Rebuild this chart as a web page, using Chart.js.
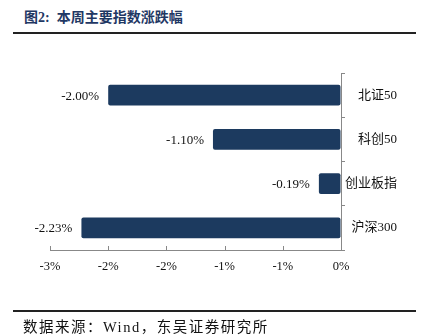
<!DOCTYPE html>
<html>
<head>
<meta charset="utf-8">
<script src="https://cdn.jsdelivr.net/npm/chart.js@4"></script>
<style>
  body { margin: 0; background: #fff; width: 423px; height: 336px; position: relative; overflow: hidden; }
  #title { position: absolute; left: 24px; top: 6px; font: bold 14px "Liberation Serif", "Noto Sans CJK SC", serif; color: #1f3864; }
  .rule { position: absolute; left: 13px; width: 403px; height: 2px; background: #222; }
  #src { position: absolute; left: 23px; top: 315px; font: 14.5px "Liberation Serif", "Noto Sans CJK SC", serif; letter-spacing: 1.5px; color: #111; }
  #wrap { position: absolute; left: 0; top: 0; width: 423px; height: 336px; }
</style>
</head>
<body>
<div id="title">图2:&nbsp; 本周主要指数涨跌幅</div>
<div class="rule" style="top:32px"></div>
<div id="wrap"><canvas id="chart"></canvas></div>
<div class="rule" style="top:310px"></div>
<div id="src">数据来源：Wind，东吴证券研究所</div>
<script>
// weekly change of major indices, %
var indices = ["北证50", "科创50", "创业板指", "沪深300"];
var changes = [-2.00, -1.10, -0.19, -2.23];

var xMin = -2.5, xMax = 0, xStep = 0.5;

var serif = '"Liberation Serif", "Noto Sans CJK SC", serif';
var axisColor = '#888';

// value labels to the left of each bar, x-axis tick marks pointing up
var barLabels = {
  id: 'barLabels',
  afterDatasetsDraw: function (chart) {
    var ctx = chart.ctx;
    var meta = chart.getDatasetMeta(0);
    ctx.save();
    ctx.font = '13px ' + serif;
    ctx.fillStyle = '#111';
    ctx.textAlign = 'right';
    ctx.textBaseline = 'middle';
    meta.data.forEach(function (bar, i) {
      ctx.fillText(changes[i].toFixed(2) + '%', bar.x - 9, bar.y + 1);
    });

    var xs = chart.scales.x;
    ctx.strokeStyle = axisColor;
    ctx.lineWidth = 1;
    ctx.beginPath();
    xs.ticks.forEach(function (t, i) {
      var px = Math.round(xs.getPixelForTick(i)) + 0.5;
      ctx.moveTo(px, xs.top);
      ctx.lineTo(px, xs.top - 4);
    });
    ctx.stroke();
    ctx.restore();
  }
};

new Chart(document.getElementById("chart"), {
  type: 'bar',
  data: {
    labels: indices,
    datasets: [{
      data: changes,
      backgroundColor: '#1c3a5f',
      borderRadius: 2,
      borderSkipped: false,
      barPercentage: 0.47,
      categoryPercentage: 1
    }]
  },
  options: {
    indexAxis: 'y',
    responsive: true,
    maintainAspectRatio: false,
    animation: false,
    layout: { padding: { top: 73, left: 50, bottom: 56, right: 26 } },
    plugins: { legend: { display: false }, tooltip: { enabled: false } },
    scales: {
      x: {
        min: xMin,
        max: xMax,
        ticks: {
          stepSize: xStep,
          color: '#111',
          font: { family: serif, size: 12.5 },
          padding: 9,
          callback: function (v) {
            var r = Math.sign(v) * Math.round(Math.abs(v));
            return (r === 0 ? 0 : r) + '%';
          }
        },
        grid: { drawOnChartArea: false, drawTicks: false, color: axisColor },
        border: { color: axisColor },
        afterFit: function (s) { s.height = 30; }
      },
      y: {
        position: 'right',
        ticks: {
          color: '#111',
          font: { family: serif, size: 13 },
          padding: 0,
          crossAlign: 'far'
        },
        grid: { drawOnChartArea: false, tickLength: 4, color: axisColor },
        border: { color: axisColor },
        afterFit: function (s) { s.width = 56; }
      }
    }
  },
  plugins: [barLabels]
});
</script>
</body>
</html>
